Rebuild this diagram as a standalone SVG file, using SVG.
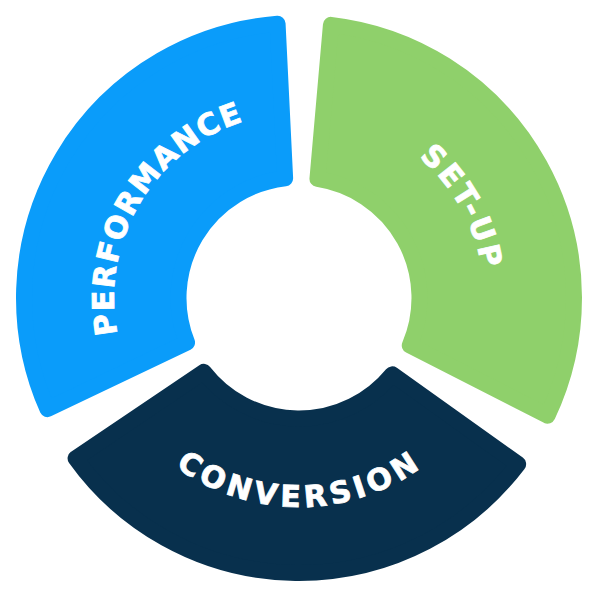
<svg xmlns="http://www.w3.org/2000/svg" width="600" height="600" viewBox="0 0 600 600">
  <style>
    .seg { stroke-width: 16; stroke-linejoin: round; }
    .blue { fill: #0A9CFA; stroke: #0A9CFA; }
    .green { fill: #8FD06B; stroke: #8FD06B; }
    .navy { fill: #08304D; stroke: #08304D; }
    .lbl { fill: #FFFFFF; stroke: #FFFFFF; stroke-width: 0.8; font-family: "DejaVu Sans", "Liberation Sans", sans-serif; font-weight: bold; font-size: 30px; }
  </style>
  <defs>
    <path id="arcBlue" d="M 178.12 438.05 A 185 185 0 0 1 364.84 125.11" fill="none"/>
    <path id="arcGreen" d="M 238.77 123.08 A 185 185 0 0 1 415.42 441.77" fill="none"/>
    <path id="arcNavy" d="M 92.72 331.59 A 209 209 0 0 0 504.33 337.02" fill="none"/>
  </defs>
  <rect width="600" height="600" fill="#FFFFFF"/>
  <g id="performance">
    <path class="seg blue" d="M 187.04 342.54 L 47.46 409.12 A 275 275 0 0 1 277.58 23.84 L 285.14 178.30 A 120.5 120.5 0 0 0 187.04 342.54 Z"/>
    <text class="lbl" text-anchor="middle" letter-spacing="1.5"><textPath href="#arcBlue" startOffset="50%">PERFORMANCE</textPath></text>
  </g>
  <g id="setup">
    <path class="seg green" d="M 317.45 178.93 L 330.93 24.87 A 275 275 0 0 1 547.55 415.66 L 409.76 345.45 A 120.5 120.5 0 0 0 317.45 178.93 Z"/>
    <text class="lbl" text-anchor="middle" letter-spacing="2.7"><textPath href="#arcGreen" startOffset="50%">SET-UP</textPath></text>
  </g>
  <g id="conversion">
    <path class="seg navy" d="M 392.23 374.33 L 518.13 464.13 A 275 275 0 0 1 75.58 458.34 L 203.79 371.86 A 120.5 120.5 0 0 0 392.23 374.33 Z"/>
    <text class="lbl" text-anchor="middle" letter-spacing="4.3"><textPath href="#arcNavy" startOffset="50.6%">CONVERSION</textPath></text>
  </g>
  <g id="connectors"/>
</svg>
